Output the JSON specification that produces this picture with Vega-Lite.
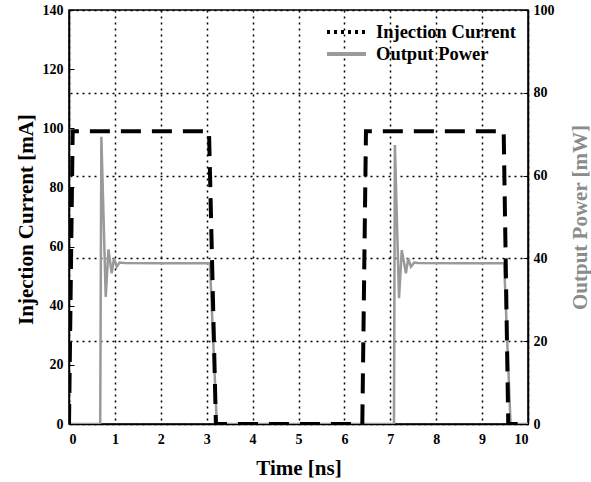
{
  "$schema": "https://vega.github.io/schema/vega-lite/v6.json",
  "width": 459,
  "height": 414,
  "autosize": {"type": "none"},
  "padding": {"left": 69, "top": 10, "right": 63, "bottom": 58},
  "background": "white",
  "config": {
    "view": {"stroke": "black", "strokeWidth": 1.5},
    "font": "Liberation Serif",
    "axis": {
      "labelFont": "Liberation Serif",
      "labelFontWeight": "bold",
      "labelFontSize": 14,
      "labelColor": "black",
      "titleFont": "Liberation Serif",
      "titleFontWeight": "bold",
      "titleFontSize": 21,
      "domainColor": "black",
      "domainWidth": 1.5,
      "tickColor": "black",
      "gridColor": "black",
      "gridDash": [2, 4],
      "gridWidth": 1.5,
      "gridOpacity": 1
    },
    "legend": {
      "labelFont": "Liberation Serif",
      "labelFontWeight": "bold",
      "labelFontSize": 18.5,
      "labelColor": "black"
    }
  },
  "datasets": {
    "current": [
      {"t": 0, "I": 0},
      {"t": 0.08, "I": 99},
      {"t": 3.05, "I": 99},
      {"t": 3.2, "I": 0},
      {"t": 6.39, "I": 0},
      {"t": 6.47, "I": 99},
      {"t": 9.47, "I": 99},
      {"t": 9.57, "I": 0},
      {"t": 10, "I": 0}
    ],
    "power": [
      {"t": 0, "P": 0},
      {"t": 0.68, "P": 0},
      {"t": 0.705, "P": 69.4},
      {"t": 0.8, "P": 30.7},
      {"t": 0.86, "P": 42.2},
      {"t": 0.93, "P": 36.4},
      {"t": 0.98, "P": 40.0},
      {"t": 1.04, "P": 38.0},
      {"t": 1.1, "P": 39.0},
      {"t": 1.2, "P": 38.9},
      {"t": 2.0, "P": 38.8},
      {"t": 3.07, "P": 38.8},
      {"t": 3.22, "P": 0},
      {"t": 7.08, "P": 0},
      {"t": 7.1, "P": 67.4},
      {"t": 7.19, "P": 30.4},
      {"t": 7.25, "P": 42.0},
      {"t": 7.34, "P": 36.4},
      {"t": 7.39, "P": 40.0},
      {"t": 7.45, "P": 38.0},
      {"t": 7.52, "P": 39.0},
      {"t": 7.6, "P": 38.9},
      {"t": 8.5, "P": 38.8},
      {"t": 9.48, "P": 38.8},
      {"t": 9.62, "P": 0},
      {"t": 10, "P": 0}
    ]
  },
  "layer": [
    {
      "data": {"name": "power"},
      "mark": {"type": "line", "strokeWidth": 2.5, "clip": true},
      "encoding": {
        "x": {
          "field": "t", "type": "quantitative",
          "scale": {"domain": [0, 10], "nice": false, "zero": false},
          "axis": {
            "title": "Time [ns]",
            "values": [0, 1, 2, 3, 4, 5, 6, 7, 8, 9, 10],
            "grid": true,
            "ticks": false,
            "labelPadding": 8,
            "titleX": 229.5,
            "titleY": 44,
            "titleBaseline": "middle"
          }
        },
        "y": {
          "field": "P", "type": "quantitative",
          "scale": {"domain": [0, 100], "nice": false},
          "axis": {
            "orient": "right",
            "title": "Output Power [mW]",
            "titleColor": "#8c8c8c",
            "values": [0, 20, 40, 60, 80, 100],
            "grid": true,
            "tickSize": -5,
            "labelPadding": 10,
            "titleAngle": -90,
            "titleX": 52,
            "titleY": 207,
            "titleAlign": "center",
            "titleBaseline": "middle"
          }
        },
        "color": {
          "datum": "Output Power",
          "type": "nominal",
          "scale": {"domain": ["Injection Current", "Output Power"], "range": ["#000000", "#9a9a9a"]},
          "legend": {
            "title": null,
            "orient": "none",
            "legendX": 266,
            "legendY": 10,
            "symbolType": "M-2,0H1.9",
            "symbolSize": 400,
            "symbolStrokeWidth": 4,
            "rowPadding": -3,
            "labelOffset": 17,
            "encode": {
              "symbols": {
                "update": {
                  "strokeDash": {"signal": "datum.value == 'Injection Current' ? [3, 4] : [1, 0]"}
                }
              }
            }
          }
        }
      }
    },
    {
      "data": {"name": "current"},
      "mark": {"type": "line", "strokeWidth": 4, "strokeDash": [20, 11], "clip": true},
      "encoding": {
        "x": {
          "field": "t", "type": "quantitative",
          "scale": {"domain": [0, 10], "nice": false, "zero": false},
          "axis": {
            "title": "Time [ns]",
            "values": [0, 1, 2, 3, 4, 5, 6, 7, 8, 9, 10],
            "grid": true,
            "ticks": false,
            "labelPadding": 8,
            "titleX": 229.5,
            "titleY": 44,
            "titleBaseline": "middle"
          }
        },
        "y": {
          "field": "I", "type": "quantitative",
          "scale": {"domain": [0, 140], "nice": false},
          "axis": {
            "orient": "left",
            "title": "Injection Current [mA]",
            "values": [0, 20, 40, 60, 80, 100, 120, 140],
            "grid": false,
            "tickSize": -5,
            "labelPadding": 11,
            "titleAngle": -90,
            "titleX": -43,
            "titleY": 209,
            "titleAlign": "center",
            "titleBaseline": "middle"
          }
        },
        "color": {"datum": "Injection Current", "type": "nominal"}
      }
    }
  ],
  "resolve": {"scale": {"y": "independent"}}
}
